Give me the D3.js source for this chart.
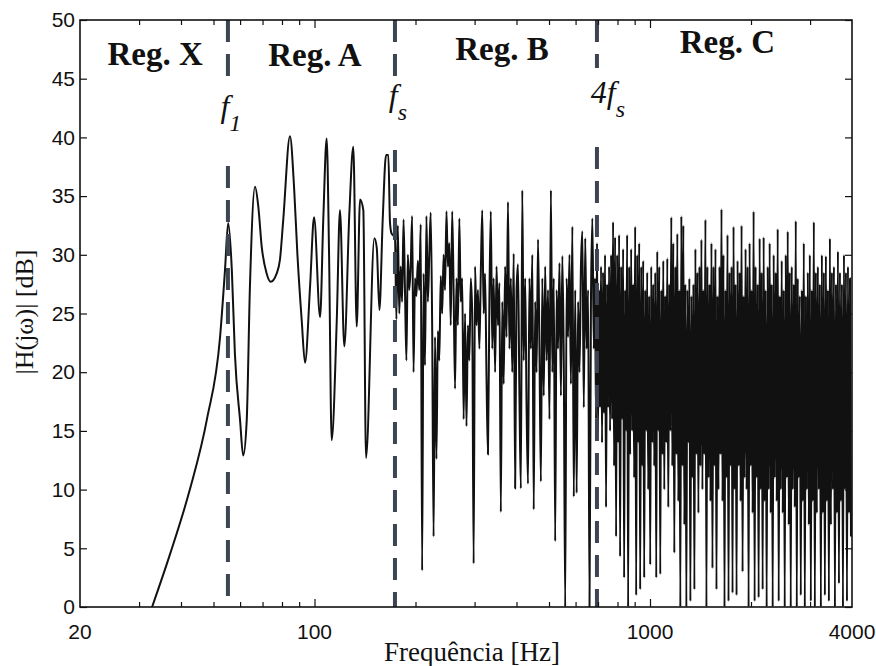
<!DOCTYPE html>
<html>
<head>
<meta charset="utf-8">
<script src="https://cdn.jsdelivr.net/npm/d3@7/dist/d3.min.js"></script>
<style>
  body { margin: 0; background: #fff; }
  svg { display: block; }
  .tick text { font-family: "Liberation Sans", Arial, sans-serif; font-size: 21px; fill: #111; }
  .domain { display: none; }
  .tick line { stroke: #111; stroke-width: 1.2; }
</style>
</head>
<body>
<svg width="876" height="666"></svg>
<script>
// smooth low-frequency part (Reg. X / Reg. A)
const freqXA = [32.8, 37.1, 42.5, 47.8, 52.3, 54.1, 55.3, 56.7, 57.9, 60.0, 61.3, 62.8, 64.2, 66.5, 68.0, 69.6,
  72.0, 74.0, 77.1, 78.9, 80.7, 84.5, 86.9, 88.9, 91.6, 93.7, 97.0, 99.7, 103.9, 106.2, 108.7, 110.5,
  112.5, 116.5, 119.1, 122.7, 127.0, 130.5, 133.6, 136.7, 139.8, 142.4, 150.8, 153.3, 156.1, 159.7,
  163.4, 166.0, 167.9, 169.8];
const dbXA = [0, 4.5, 10, 16, 23, 28.7, 32.7, 28.7, 21.6, 15.9, 12.9, 15.9, 27.3, 35.8, 34.1, 30.7,
  28.4, 27.7, 28.4, 29.6, 33.0, 40.1, 35.8, 30.1, 24.4, 20.8, 27.3, 33.2, 24.7, 33.0, 39.9, 30.1,
  14.2, 24.4, 33.8, 22.2, 33.5, 39.2, 23.9, 34.7, 33.8, 12.7, 31.4, 30.6, 25.3, 33.0,
  38.5, 38.5, 32.7, 31.8];

// Reg. B, samples from 173.7 Hz to 680 Hz
const rangeB = [173.7, 680];
const dbB = [31.5, 24.5, 32.5, 25, 29, 26, 33, 27, 21, 30, 27, 29, 33.3, 20, 28, 26.5, 29.5, 27, 32.6, 3.1,
  28.4, 20.6, 33.3, 26, 30, 33.6, 24, 6, 23, 12.6, 23.5, 21, 28.2, 25, 30, 27, 33.7, 29, 31, 24,
  33.7, 27, 18.6, 28, 24, 33.1, 26, 28, 16, 25, 15.4, 24, 21, 28, 25, 3.7, 29, 24, 27, 22,
  28.4, 33.8, 25, 28.4, 19.5, 13, 26, 33.7, 22, 28, 20, 29, 24, 27.6, 8.1, 26, 19, 29, 23, 34.5,
  22, 28, 20, 30.1, 10.1, 27, 29.2, 18, 10.1, 35.5, 21, 28, 17, 10.5, 28, 22, 30, 8.3, 26, 20,
  31.3, 22, 10.7, 28, 18, 29, 21, 27, 16, 35.5, 20, 28, 5.6, 27, 22, 29.3, 18, 29.9, 21, 0,
  28, 23, 30, 19, 32.4, 9.4, 27, 9.7, 26, 20, 29, 32, 17, 31.4, 22, 27, 0, 26, 33.1, 22];

// Reg. C, samples from 685 Hz to 3972 Hz
const rangeC = [685.6, 3972];
const dbC = [28, 16, 31, 15, 27, 17, 29, 14, 28.5, 16.5, 30, 8.5, 27.5, 17, 29, 15,
  30, 16, 32.8, 12, 31.5, 6, 30, 14, 31.7, 4.3, 29, 16, 30.5, 2.5, 27, 15,
  31.7, 0, 29, 13, 30.5, 15, 27.5, 11, 32.4, 1, 30, 14, 31, 1.5, 29, 12,
  29.5, 2.5, 27, 15, 28.5, 10, 26.5, 3.6, 29, 14, 27.5, 12, 28.5, 2.5, 30.3, 15,
  29, 2.8, 27, 13, 29.5, 10, 26.5, 14, 29.7, 8.5, 27.5, 15, 33.2, 12, 31, 4.6,
  29, 13, 31.8, 9, 27, 0, 33.3, 12, 32.5, 7, 27.5, 0, 27, 14, 28, 0.5,
  26.5, 11, 27.5, 1.5, 30.5, 13, 28.5, 8, 29, 12, 31.3, 10, 27, 13, 33, 0,
  29, 11, 27.5, 9, 31, 3.3, 29, 12, 30.5, 1.5, 26.5, 10, 29, 13, 33.9, 9,
  30, 0, 27, 11, 31.7, 0.5, 28.5, 12, 29, 1.2, 32.4, 10, 27.5, 1, 29.5, 12,
  28.5, 9, 32.5, 3, 26.5, 11, 30.5, 10, 29, 0, 31, 12, 27, 8, 33.7, 0.5,
  29, 11, 27.5, 0.8, 31.4, 10, 28.5, 1.5, 31.5, 9, 27, 0, 29, 10, 31, 8,
  27.5, 0, 30, 11, 28.5, 9, 32.2, 0.5, 26.5, 10, 29.5, 8, 27, 0, 30, 11,
  32, 7, 28.5, 0, 29, 10, 27.5, 8.5, 32.9, 0, 28, 11, 26.5, 1, 27, 9,
  31, 0, 26.5, 10, 28.5, 7, 30, 0.5, 27, 9, 32.8, 0, 28.5, 8, 29, 10,
  27.5, 0, 30, 8, 28.5, 1, 29.9, 9, 27, 0.5, 31.4, 7, 28.5, 10, 29, 0,
  27.5, 8, 30.3, 2, 28.5, 9, 27.5, 0, 30, 10, 28.5, 0.5, 29, 8, 28, 6];

// marker lines
const markers = [
  { f: 55.2, name: 'f', sub: '1', pre: '' },
  { f: 173.7, name: 'f', sub: 's', pre: '' },
  { f: 694.8, name: 'f', sub: 's', pre: '4' }
];
const regions = ['Reg. X', 'Reg. A', 'Reg. B', 'Reg. C'];
const regionFreq = [33.5, 100.3, 362, 1700];
const yTicks = [0, 5, 10, 15, 20, 25, 30, 35, 40, 45, 50];
const xLabels = [20, 100, 1000, 4000];
const xMinor = [30, 40, 50, 60, 70, 80, 90, 200, 300, 400, 500, 600, 700, 800, 900, 2000, 3000];
const xMajor = [100, 1000];

const svg = d3.select('svg');
const mLeft = 80, mRight = 852, mTop = 20, mBottom = 607;

const x = d3.scaleLog().domain([20, 4000]).range([mLeft, mRight]);
const y = d3.scaleLinear().domain([0, 50]).range([mBottom, mTop]);

function spread(range, vals) {
  const n = vals.length;
  return vals.map((v, i) => ({ f: range[0] * Math.pow(range[1] / range[0], i / (n - 1)), db: v }));
}

const data = freqXA.map((f, i) => ({ f: f, db: dbXA[i] }))
  .concat(spread(rangeB, dbB))
  .concat(spread(rangeC, dbC));

svg.append('defs').append('clipPath').attr('id', 'clip')
  .append('rect').attr('x', mLeft).attr('y', mTop).attr('width', mRight - mLeft).attr('height', mBottom - mTop);

const line = d3.line()
  .x(d => x(d.f))
  .y(d => y(d.db))
  .curve(d3.curveMonotoneX);

svg.append('path')
  .datum(data)
  .attr('clip-path', 'url(#clip)')
  .attr('fill', 'none')
  .attr('stroke', '#111')
  .attr('stroke-width', 2)
  .attr('stroke-linejoin', 'round')
  .attr('d', line);

// dashed markers, broken where the labels sit
const gapTop = [78, 76, 68];
const gapBot = [166, 150, 147];
const labBase = [117, 106, 103];
markers.forEach((m, i) => {
  const xm = x(m.f);
  [[mTop, gapTop[i]], [gapBot[i], mBottom]].forEach(seg => {
    svg.append('line')
      .attr('x1', xm).attr('x2', xm)
      .attr('y1', seg[0]).attr('y2', seg[1])
      .attr('stroke', '#3d4452')
      .attr('stroke-width', 4)
      .attr('stroke-dasharray', '22,12');
  });
  const t = svg.append('text')
    .attr('x', xm + (m.pre ? 11 : 3))
    .attr('y', labBase[i])
    .attr('text-anchor', 'middle')
    .style('font-family', '"Liberation Serif", "Times New Roman", serif')
    .style('font-style', 'italic')
    .style('font-size', '32px')
    .attr('fill', '#111');
  if (m.pre) t.append('tspan').text(m.pre);
  t.append('tspan').text(m.name);
  t.append('tspan').attr('dy', 14).style('font-size', '24px').text(m.sub);
});

// region labels
const regBase = [65, 66, 60, 53];
svg.selectAll('text.reg')
  .data(regions)
  .enter().append('text')
  .attr('class', 'reg')
  .attr('x', (d, i) => x(regionFreq[i]))
  .attr('y', (d, i) => regBase[i])
  .attr('text-anchor', 'middle')
  .style('font-family', '"Liberation Serif", "Times New Roman", serif')
  .style('font-weight', 'bold')
  .style('font-size', '33px')
  .attr('fill', '#111')
  .text(d => d);

// axes
svg.append('g')
  .attr('transform', `translate(${mLeft},0)`)
  .call(d3.axisLeft(y).tickValues(yTicks).tickSize(-7).tickPadding(5));
svg.append('g')
  .attr('transform', `translate(${mRight},0)`)
  .call(d3.axisRight(y).tickValues(yTicks).tickSize(-7).tickFormat(''));

svg.append('g')
  .attr('transform', `translate(0,${mBottom})`)
  .call(d3.axisBottom(x).tickValues(xMinor).tickSize(-5).tickFormat(''));
svg.append('g')
  .attr('transform', `translate(0,${mBottom})`)
  .call(d3.axisBottom(x).tickValues(xMajor).tickSize(-8).tickFormat(''));
svg.append('g')
  .attr('transform', `translate(0,${mTop})`)
  .call(d3.axisTop(x).tickValues(xMinor).tickSize(-5).tickFormat(''));
svg.append('g')
  .attr('transform', `translate(0,${mTop})`)
  .call(d3.axisTop(x).tickValues(xMajor).tickSize(-8).tickFormat(''));

svg.selectAll('text.xl')
  .data(xLabels)
  .enter().append('text')
  .attr('class', 'xl')
  .attr('x', d => x(d))
  .attr('y', 639)
  .attr('text-anchor', 'middle')
  .style('font-family', '"Liberation Sans", Arial, sans-serif')
  .style('font-size', '21px')
  .attr('fill', '#111')
  .text(d => d);

// frame
svg.append('rect')
  .attr('x', mLeft).attr('y', mTop)
  .attr('width', mRight - mLeft).attr('height', mBottom - mTop)
  .attr('fill', 'none')
  .attr('stroke', '#111')
  .attr('stroke-width', 1.6);

svg.append('text')
  .attr('x', 472).attr('y', 661)
  .attr('text-anchor', 'middle')
  .style('font-family', '"Liberation Serif", "Times New Roman", serif')
  .style('font-size', '27px')
  .attr('fill', '#111')
  .text('Frequência [Hz]');

svg.append('text')
  .attr('transform', 'translate(33,312) rotate(-90)')
  .attr('text-anchor', 'middle')
  .style('font-family', '"Liberation Serif", "Times New Roman", serif')
  .style('font-size', '26px')
  .attr('fill', '#111')
  .text('|H(jω)| [dB]');
</script>
</body>
</html>
